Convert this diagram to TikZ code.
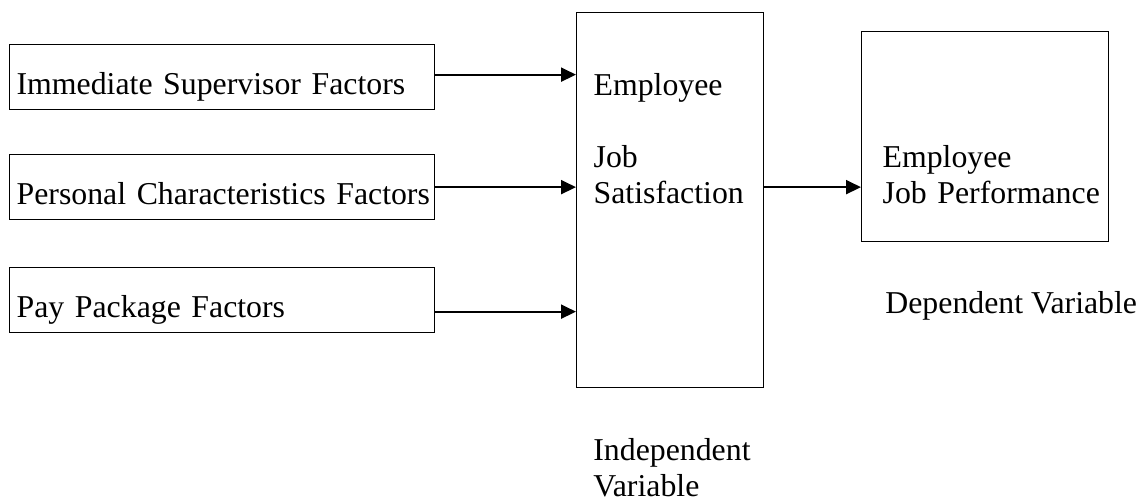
\documentclass[tikz,border=0pt]{standalone}
\usepackage{fontspec}
\setmainfont{Liberation Serif}
\usetikzlibrary{arrows.meta}

\begin{document}
\begin{tikzpicture}[x=0.5pt, y=-0.5pt, >={Triangle[length=7.5pt,width=7pt]},
  every node/.style={font=\fontsize{15.9}{18}\selectfont},
  factor/.style={draw, line width=0.65pt, anchor=north west, inner xsep=3.5pt, inner ysep=0pt,
    text width=205.5pt, text height=25pt, text depth=7.5pt, align=left},
  link/.style={->, line width=1pt}]
  % Fix the page size
  \useasboundingbox (0,0) rectangle (1141,501);

  % Draw the three factor boxes
  \node[factor] (sup) at (9,44) {\mbox{Immediate Supervisor Factors}};
  \node[factor] (pers) at (9,154) {\mbox{Personal Characteristics Factors}};
  \node[factor] (pay) at (9,267) {\mbox{Pay Package Factors}};

  % Draw the independent variable box
  \node[draw, line width=0.65pt, anchor=north west, inner xsep=8.5pt, inner ysep=0pt,
    text width=76.5pt, text height=41.5pt, text depth=146pt, align=left]
    (sat) at (576,12) {Employee\\[18pt]Job\\\mbox{Satisfaction}};

  % Draw the dependent variable box
  \node[draw, line width=0.65pt, anchor=north west, inner xsep=10.5pt, inner ysep=0pt,
    text width=102.5pt, text height=68pt, text depth=37pt, align=left]
    (perf) at (861,31) {Employee\\\mbox{Job Performance}};

  % Labels under the boxes
  \node[anchor=base west, inner sep=0pt] (dep) at (885,314) {Dependent Variable};
  \node[anchor=base west, inner sep=0pt, text width=100pt, align=left]
    (indep) at (593,461) {Independent\\Variable};

  % Draw the arrows
  \draw[link] ([yshift=1.25pt]sup.east) -- ([yshift=1.25pt]sup.east -| sat.west);
  \draw[link] (pers.east) -- (pers.east -| sat.west);
  \draw[link] ([yshift=-5.75pt]pay.east) -- ([yshift=-5.75pt]pay.east -| sat.west);
  \draw[link] (sat.east |- pers.east) -- (perf.west |- pers.east);
\end{tikzpicture}
\end{document}
